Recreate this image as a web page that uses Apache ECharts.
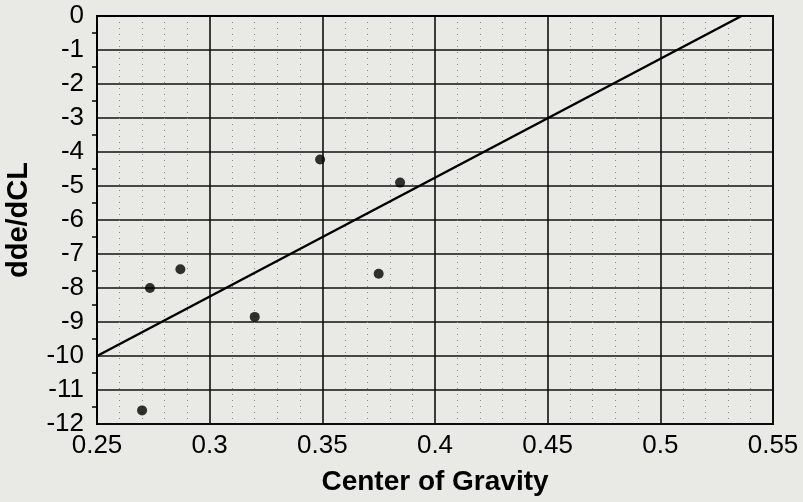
<!DOCTYPE html>
<html>
<head>
<meta charset="utf-8">
<script src="https://cdn.jsdelivr.net/npm/echarts@6/dist/echarts.min.js"></script>
<style>
html,body{margin:0;padding:0;background:#e9e9e5;}
#c{width:803px;height:502px;}
</style>
</head>
<body>
<div id="c"></div>
<script>
var pointX = [0.270, 0.2735, 0.287, 0.320, 0.349, 0.375, 0.3845];
var pointY = [-11.6, -8.0, -7.45, -8.85, -4.22, -7.58, -4.9];
var fitX = [0.25, 0.536];
var fitY = [-10, 0];
var xTicks = [0.25, 0.3, 0.35, 0.4, 0.45, 0.5, 0.55];
var yTicks = [0, -1, -2, -3, -4, -5, -6, -7, -8, -9, -10, -11, -12];

var chart = echarts.init(document.getElementById('c'), null, {renderer: 'canvas'});
var font = 'Liberation Sans, Arial, sans-serif';
chart.setOption({
  backgroundColor: '#e9e9e5',
  animation: false,
  grid: {left: 97, right: 30, top: 16, bottom: 78, containLabel: false, outerBoundsMode: 'none',
    show: true, borderColor: '#000', borderWidth: 2, backgroundColor: 'transparent'},
  xAxis: {
    type: 'value', min: xTicks[0], max: xTicks[xTicks.length - 1], interval: 0.05,
    name: 'Center of Gravity', nameLocation: 'middle', nameGap: 44,
    nameTextStyle: {fontFamily: font, fontSize: 28, fontWeight: 'bold', color: '#000'},
    axisLine: {show: true, lineStyle: {color: '#000', width: 2}},
    axisTick: {show: false},
    axisLabel: {fontFamily: font, fontSize: 26, color: '#000', margin: 9},
    splitLine: {show: true, lineStyle: {color: '#111', width: 1.6}},
    minorTick: {show: true, splitNumber: 5, length: 0},
    minorSplitLine: {show: true, lineStyle: {color: '#888', width: 1, type: [1, 5]}}
  },
  yAxis: {
    type: 'value', min: yTicks[yTicks.length - 1], max: yTicks[0], interval: 1,
    name: 'dde/dCL', nameLocation: 'middle', nameGap: 64,
    nameTextStyle: {fontFamily: font, fontSize: 29, fontWeight: 'bold', color: '#000'},
    axisLine: {show: true, lineStyle: {color: '#000', width: 2}},
    axisTick: {show: false},
    axisLabel: {fontFamily: font, fontSize: 26, color: '#000', margin: 13},
    splitLine: {show: true, lineStyle: {color: '#111', width: 1.6}},
    minorTick: {show: true, splitNumber: 2, length: 5, inside: true, lineStyle: {color: '#000', width: 1.5}}
  },
  series: [
    {
      type: 'line', data: fitX.map(function (x, i) { return [x, fitY[i]]; }),
      showSymbol: false, lineStyle: {color: '#000', width: 2.5}, z: 3
    },
    {
      type: 'scatter', data: pointX.map(function (x, i) { return [x, pointY[i]]; }),
      symbol: 'circle', symbolSize: 10, itemStyle: {color: '#000'}, z: 4
    }
  ]
});
</script>
</body>
</html>
